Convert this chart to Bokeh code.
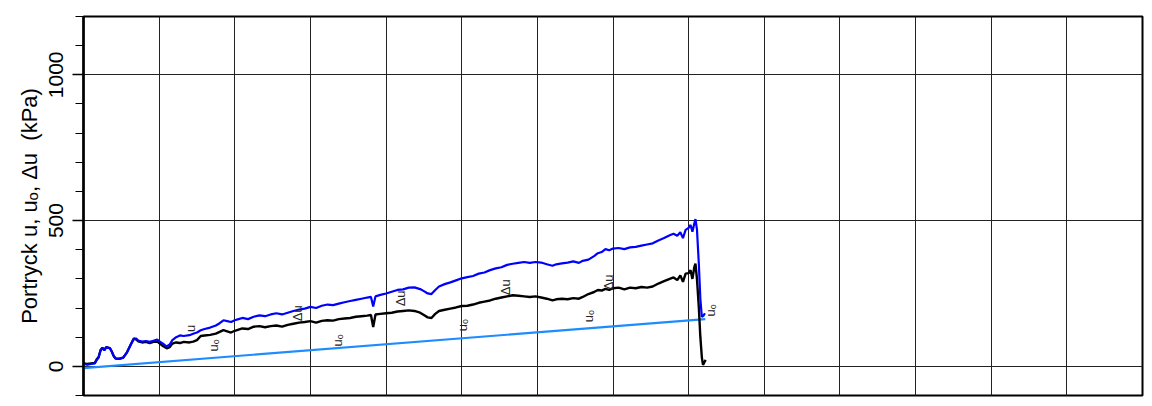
import math
from bokeh.plotting import figure
from bokeh.models import FixedTicker, Grid, Range1d, ColumnDataSource
from bokeh.core.properties import value
from bokeh.embed import file_html
from bokeh.resources import INLINE

# ---- data (depth in m, pressure in kPa) ----
depth_u = [0.0, 0.1, 0.2, 0.3, 0.35, 0.4, 0.45, 0.5, 0.55, 0.6, 0.7, 0.75, 0.8, 0.85, 0.95,
           1.05, 1.15, 1.25, 1.33, 1.4, 1.45, 1.55, 1.65, 1.75, 1.85, 1.95, 2.02, 2.1, 2.2,
           2.28, 2.35, 2.45, 2.55, 2.65, 2.8, 2.9, 3.0, 3.1, 3.2, 3.35, 3.5, 3.6, 3.7, 3.8,
           3.9, 4.0, 4.1, 4.2, 4.35, 4.5, 4.65, 4.8, 4.95, 5.1, 5.25, 5.4, 5.55, 5.7, 5.85,
           6.0, 6.15, 6.3, 6.45, 6.6, 6.75, 6.9, 7.05, 7.2, 7.35, 7.5, 7.6, 7.66, 7.72, 7.85,
           8.0, 8.15, 8.3, 8.45, 8.6, 8.75, 8.9, 9.0, 9.1, 9.2, 9.3, 9.4, 9.55, 9.7, 9.85,
           10.0, 10.15, 10.3, 10.45, 10.6, 10.75, 10.9, 11.05, 11.2, 11.35, 11.5, 11.65, 11.8,
           11.95, 12.1, 12.25, 12.4, 12.5, 12.65, 12.8, 12.95, 13.1, 13.2, 13.35, 13.5, 13.6,
           13.7, 13.8, 13.9, 14.0, 14.15, 14.3, 14.45, 14.6, 14.75, 14.9, 15.05, 15.2, 15.35,
           15.5, 15.6, 15.7, 15.78, 15.85, 15.92, 16.0, 16.05, 16.1, 16.15, 16.18, 16.22,
           16.27, 16.31, 16.35, 16.4, 16.43]
u_kpa = [8, 6, 8, 10, 22, 30, 55, 62, 55, 65, 62, 50, 35, 27, 26,
         30, 48, 75, 95, 95, 88, 85, 87, 84, 88, 92, 85, 78, 68,
         75, 90, 100, 106, 104, 107, 112, 116, 124, 128, 133, 140, 148, 158, 155,
         152, 158, 162, 166, 162, 170, 175, 172, 178, 182, 178, 184, 190, 195, 198,
         204, 200, 208, 212, 210, 215, 220, 224, 228, 232, 236, 238, 205, 240, 245,
         250, 256, 262, 264, 270, 271, 265, 258, 250, 248, 262, 274, 282, 288, 295,
         302, 306, 310, 318, 322, 330, 336, 340, 348, 352, 355, 358, 355,
         358, 356, 350, 345, 350, 353, 356, 360, 355, 362, 366, 378, 388,
         392, 402, 398, 404, 406, 402, 408, 410, 414, 418, 422, 432, 440,
         450, 455, 448, 460, 440, 468, 475, 485, 462, 490, 505, 470,
         350, 230, 170, 175, 182]

depth_du = [0.0, 0.1, 0.2, 0.3, 0.35, 0.4, 0.45, 0.5, 0.55, 0.6, 0.7, 0.75, 0.8, 0.85, 0.95,
            1.05, 1.15, 1.25, 1.33, 1.4, 1.45, 1.55, 1.65, 1.75, 1.85, 1.95, 2.02, 2.1, 2.2,
            2.28, 2.35, 2.45, 2.55, 2.65, 2.8, 2.9, 3.0, 3.1, 3.2, 3.35, 3.5, 3.6, 3.7, 3.8,
            3.9, 4.0, 4.1, 4.2, 4.35, 4.5, 4.65, 4.8, 4.95, 5.1, 5.25, 5.4, 5.55, 5.7, 5.85,
            6.0, 6.15, 6.3, 6.45, 6.6, 6.75, 6.9, 7.05, 7.2, 7.35, 7.5, 7.6, 7.66, 7.72, 7.85,
            8.0, 8.15, 8.3, 8.45, 8.6, 8.75, 8.9, 9.0, 9.1, 9.2, 9.3, 9.4, 9.55, 9.7, 9.85,
            10.0, 10.15, 10.3, 10.45, 10.6, 10.75, 10.9, 11.05, 11.2, 11.35, 11.5, 11.65, 11.8,
            11.95, 12.1, 12.25, 12.4, 12.5, 12.65, 12.8, 12.95, 13.1, 13.2, 13.35, 13.5, 13.6,
            13.7, 13.8, 13.9, 14.0, 14.15, 14.3, 14.45, 14.6, 14.75, 14.9, 15.05, 15.2, 15.35,
            15.5, 15.6, 15.7, 15.78, 15.85, 15.92, 16.0, 16.05, 16.1, 16.15, 16.18, 16.22,
            16.27, 16.31, 16.35, 16.38, 16.42, 16.45]
du_kpa = [10, 8, 10, 12, 24, 32, 55, 64, 56, 66, 62, 50, 35, 27, 26,
          30, 48, 75, 95, 92, 86, 82, 84, 80, 84, 85, 78, 70, 62,
          66, 78, 82, 80, 84, 82, 85, 90, 104, 106, 108, 112, 118, 124, 120,
          116, 122, 126, 130, 128, 136, 138, 134, 138, 140, 136, 142, 146, 150, 152,
          155, 150, 156, 158, 157, 162, 164, 166, 170, 172, 174, 176, 135, 178, 180,
          182, 184, 188, 190, 192, 190, 184, 176, 168, 166, 180, 190, 194, 198, 202,
          207, 208, 212, 218, 222, 226, 232, 236, 240, 244, 242, 240, 238,
          240, 236, 232, 226, 230, 232, 230, 234, 232, 238, 248, 255, 262,
          260, 266, 262, 268, 270, 264, 270, 268, 272, 270, 274, 284, 292,
          300, 305, 296, 312, 290, 318, 320, 330, 300, 340, 352, 300,
          200, 100, 30, 5, 15, 22]

depth_u0 = [0.0, 16.44]
u0_kpa = [-6, 162]

label_text = ["u", "uₒ", "Δu", "uₒ", "Δu", "uₒ", "Δu", "uₒ", "Δu", "uₒ"]
label_depth = [2.83, 3.44, 5.66, 6.72, 8.38, 10.02, 11.16, 13.35, 13.88, 16.58]
label_kpa = [130, 72, 182, 89, 233, 141, 271, 172, 288, 192]

x_grid = list(range(0, 30, 2))
y_major = [0, 500, 1000]
y_minor = list(range(-100, 1300, 100))

FONT = "Liberation Sans"

p = figure(width=1146, height=403, output_backend="svg", toolbar_location=None,
           x_range=Range1d(0, 28), y_range=Range1d(-100, 1200),
           x_axis_location=None, min_border_left=83, min_border_right=4,
           min_border_top=16, min_border_bottom=8)
p.background_fill_color = "white"
p.border_fill_color = "white"
p.outline_line_color = "black"
p.outline_line_width = 2

p.xgrid.visible = False
p.ygrid.visible = False
p.add_layout(Grid(dimension=0, ticker=FixedTicker(ticks=x_grid),
                  grid_line_color="#222222", grid_line_width=1))
p.add_layout(Grid(dimension=1, ticker=FixedTicker(ticks=y_major),
                  grid_line_color="#222222", grid_line_width=1))

ax = p.yaxis[0]
ax.ticker = FixedTicker(ticks=y_major, minor_ticks=y_minor)
ax.axis_line_width = 2.5
ax.axis_line_color = "black"
ax.major_tick_out = 11
ax.major_tick_in = 0
ax.minor_tick_out = 8
ax.minor_tick_in = 0
ax.major_tick_line_color = "black"
ax.minor_tick_line_color = "black"
ax.major_tick_line_width = 1.5
ax.minor_tick_line_width = 1.2
ax.major_label_orientation = "vertical"
ax.major_label_text_font = FONT
ax.major_label_text_font_size = "21px"
ax.major_label_text_color = "black"
ax.major_label_standoff = 9
ax.axis_label = "Portryck u, uₒ, Δu\u00a0 (kPa)"
ax.axis_label_text_font = FONT
ax.axis_label_text_font_size = "22px"
ax.axis_label_text_font_style = "normal"
ax.axis_label_text_color = "black"
ax.axis_label_standoff = 5

p.line(depth_u0, u0_kpa, line_color="#1E8CFF", line_width=2.2)
p.line(depth_du, du_kpa, line_color="black", line_width=2.4)
p.line(depth_u, u_kpa, line_color="#0000FF", line_width=2.2)

src = ColumnDataSource(dict(x=label_depth, y=label_kpa, t=label_text))
p.text(x="x", y="y", text="t", source=src, angle=math.pi / 2,
       text_font=value(FONT), text_font_size="13px", text_color="#222222",
       text_align="center", text_baseline="middle")

open("out.html", "w").write(file_html(p, INLINE))
